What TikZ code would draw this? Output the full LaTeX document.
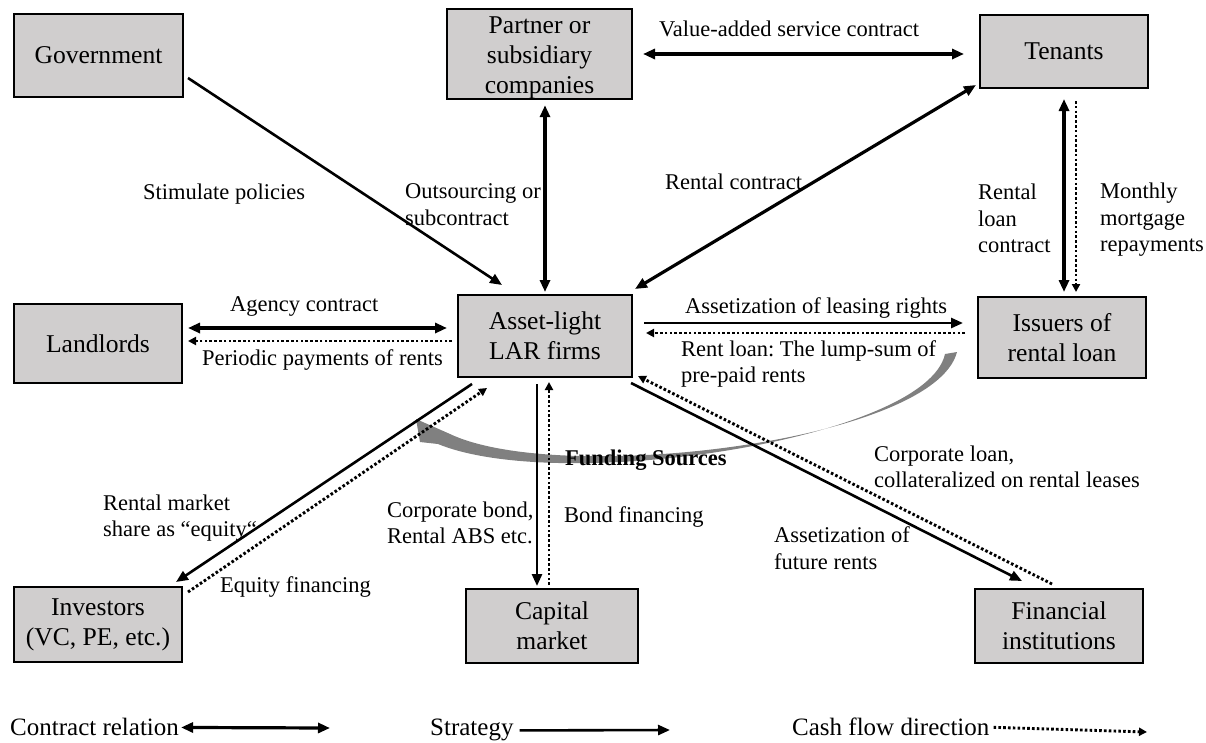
\documentclass[tikz,border=0pt]{standalone}
\usepackage{fontspec}
\setmainfont{Liberation Serif}
\usetikzlibrary{arrows.meta,calc}
\definecolor{boxgray}{RGB}{208,206,206}
\definecolor{arrowgray}{RGB}{128,128,128}
\newcommand{\bxfont}{\fontsize{25.6}{30}\selectfont}
\newcommand{\lbfont}{\fontsize{22.5}{26.5}\selectfont}
\newcommand{\lgfont}{\fontsize{25}{30}\selectfont}
\frenchspacing
\begin{document}
\begin{tikzpicture}[x=1pt,y=-1pt,
  actor/.style={draw=black, line width=2pt, fill=boxgray, inner sep=0pt, align=center, font=\bxfont},
  lab/.style={inner sep=0pt, font=\lbfont, align=left},
  leg/.style={inner sep=0pt, font=\lgfont, anchor=base west},
  contract/.style={line width=3.2pt, arrows={Triangle[length=12pt,width=10pt]-Triangle[length=12pt,width=10pt]}},
  strategy/.style={line width=2.6pt, arrows={-Triangle[length=12pt,width=10pt]}},
  cash/.style={line width=2.9pt, dash pattern=on 2.6pt off 2.2pt, arrows={-Triangle[length=8pt,width=8pt]}},
]
\useasboundingbox (0,0) rectangle (1206,742);

% ---------- actors ----------
\node[actor, minimum width=169pt, minimum height=83pt] (gov) at (98.5,55.5) {Government};
\node[actor, minimum width=185pt, minimum height=82pt] (partner) at (539.5,54) {\rule{0pt}{25pt}Partner or\\subsidiary\\companies};
\node[actor, minimum width=168pt, minimum height=73pt] (tenants) at (1064,51.5) {Tenants};
\node[actor, minimum width=168pt, minimum height=79pt] (landlords) at (98,343.5) {Landlords};
\node[actor, minimum width=174pt, minimum height=82pt] (asset) at (545,336) {Asset-light\\LAR firms};
\node[actor, minimum width=168pt, minimum height=81pt] (issuers) at (1062,337.5) {Issuers of\\rental loan};
\node[actor, minimum width=168pt, minimum height=75pt] (investors) at (98,624.5) {Investors\\(VC, PE, etc.)};
\node[actor, minimum width=172pt, minimum height=74pt] (capital) at (552,626) {Capital\\market};
\node[actor, minimum width=168pt, minimum height=74pt] (financial) at (1059,626) {Financial\\institutions};

% ---------- grey funding-sources arrow ----------
\fill[arrowgray] (416,419) -- (450,434) .. controls (560,486) and (934,442) .. (957,352)
  -- (945,354) .. controls (926,440) and (560,494) .. (438,444) -- (420,442) -- cycle;

% ---------- connectors ----------
\draw[strategy] ($(gov.east)+(4,22.5)$) -- ($(asset.north)+(-43,-9)$);
\draw[contract] ($(partner.south)+(5.5,5)$) -- ($(asset.north)+(0,-2)$);
\draw[contract] ($(partner.east)+(10,0)$) -- ($(tenants.west)+(-15,2.5)$);
\draw[contract] ($(tenants.south west)+(-3,-4)$) -- ($(asset.north east)+(2,-5)$);
\draw[contract] ($(tenants.south)+(0,10)$) -- ($(issuers.north)+(2,-4)$);
\draw[cash] ($(tenants.south)+(12,12)$) -- ($(issuers.north)+(14,-4)$);
\draw[contract] ($(landlords.east)+(5,-15.5)$) -- ($(asset.west)+(-10,-8)$);
\draw[cash] ($(asset.west)+(-5,5)$) -- ($(landlords.east)+(5,-2.5)$);
\draw[strategy] ($(asset.east)+(11,-13)$) -- ($(issuers.west)+(-14,-14.5)$);
\draw[cash] ($(issuers.west)+(-12,-4.5)$) -- ($(asset.east)+(13,-3)$);
\draw[strategy] ($(asset.south west)+(15,6)$) -- ($(investors.north east)+(-7,-4)$);
\draw[cash] ($(investors.north east)+(5,6)$) -- ($(asset.south west)+(30,10)$);
\draw[strategy] ($(asset.south)+(-8,6)$) -- ($(capital.north)+(-15,-2)$);
\draw[cash] ($(capital.north)+(-3,-3)$) -- ($(asset.south)+(4,4)$);
\draw[strategy] ($(asset.south east)+(-2,5)$) -- ($(financial.north)+(-37,-7)$);
\draw[cash] ($(financial.north)+(-7,-4)$) -- ($(asset.south east)+(5,-2)$);

% ---------- labels ----------
\node[lab, anchor=base west] (lstim) at (143,199) {Stimulate policies};
\node[lab, anchor=north west] (lout) at (405,183.5) {Outsourcing or\\subcontract};
\node[lab, anchor=base west] (lrent) at (665,189) {Rental contract};
\node[lab, anchor=base west] (lvalue) at (659,36) {Value-added service contract};
\node[lab, anchor=north west] (lrlc) at (978,184) {Rental\\loan\\contract};
\node[lab, anchor=north west] (lmon) at (1100,183) {Monthly\\mortgage\\repayments};
\node[lab, anchor=base west] (lagency) at (230,311) {Agency contract};
\node[lab, anchor=base west] (lperiod) at (202,365) {Periodic payments of rents};
\node[lab, anchor=base west] (lassetlr) at (685,313) {Assetization of leasing rights};
\node[lab, anchor=north west] (lrentloan) at (681,340) {Rent loan: The lump-sum of\\pre-paid rents};
\node[lab, anchor=base west, font=\lbfont\bfseries] (lfund) at (565,465) {Funding Sources};
\node[lab, anchor=north west] (lrms) at (103,494.5) {Rental market\\share as “equity“};
\node[lab, anchor=base west] (leqf) at (220,592) {Equity financing};
\node[lab, anchor=north west] (lcb) at (387,501.5) {Corporate bond,\\Rental ABS etc.};
\node[lab, anchor=base west] (lbf) at (564,522) {Bond financing};
\node[lab, anchor=north west] (lcl) at (874,445.5) {Corporate loan,\\collateralized on rental leases};
\node[lab, anchor=north west] (lafr) at (774,526.5) {Assetization of\\future rents};

% ---------- legend ----------
\node[leg] (lgc) at (10,735) {Contract relation};
\coordinate (lgcB) at (330,728);
\draw[contract] ($(lgc.east)+(2,1)$) -- (lgcB);
\node[leg] (lgs) at (430,735) {Strategy};
\coordinate (lgsB) at (670,730);
\draw[strategy] ($(lgs.east)+(6,1)$) -- (lgsB);
\node[leg] (lgf) at (792,735) {Cash flow direction};
\coordinate (lgfB) at (1147,732);
\draw[cash] ($(lgf.east)+(4,1)$) -- (lgfB);
\end{tikzpicture}
\end{document}
